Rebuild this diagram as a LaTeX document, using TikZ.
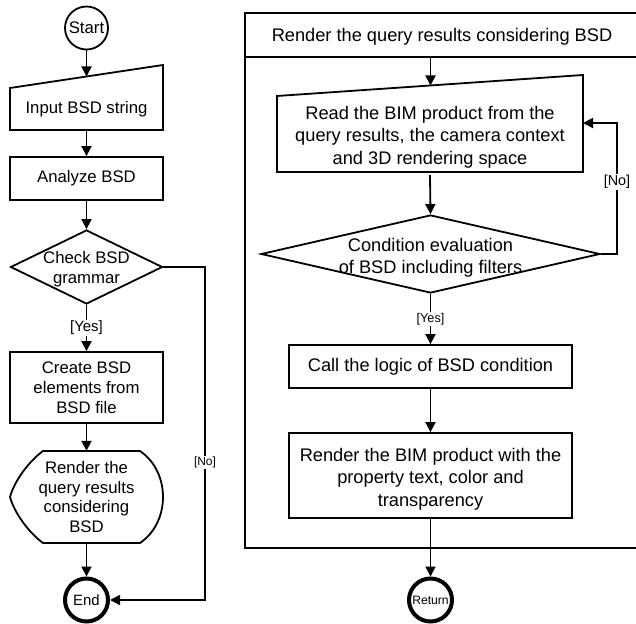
\documentclass[tikz,border=0pt]{standalone}
\usepackage{fontspec}
\setmainfont{Liberation Sans}
\usetikzlibrary{arrows.meta,shapes.geometric}
\newcommand\fontLeft{\fontsize{16.8}{20}\selectfont}
\newcommand\fontRight{\fontsize{18.3}{22.5}\selectfont}
\begin{document}
\begin{tikzpicture}[x=1bp,y=-1bp,
  ln/.style={line width=1.8bp},
  arr/.style={ln,-{Triangle[length=10bp,width=10bp]}},
  boxL/.style={draw,ln,rectangle,inner sep=0pt,align=center,font=\fontLeft},
  boxR/.style={draw,ln,rectangle,inner sep=0pt,align=center,font=\fontRight},
  txtL/.style={inner sep=0pt,align=center,font=\fontLeft},
  txtR/.style={inner sep=0pt,align=center,font=\fontRight},
  dia/.style={diamond,draw,ln,inner sep=0pt,aspect=2},
  circ/.style={circle,draw,ln,inner sep=0pt,minimum size=43bp},
  lbl/.style={fill=white,inner sep=1bp,font=\fontsize{13}{15}\selectfont}]
\useasboundingbox (0,0) rectangle (636,624);

% ---------------- left flow ----------------
\node[circ,font=\fontLeft] (start) at (86.5,28) {Start};

\draw[ln] (10,88) -- (163,65) -- (163,130) -- (10,130) -- cycle;
\node[txtL,minimum width=153bp,minimum height=42bp] (inp) at (86.5,109) {Input BSD string};
\coordinate (inpTop) at (86.5,76.5);

\node[boxL,minimum width=153bp,minimum height=43bp] (ana) at (86.5,178.5) {Analyze BSD};

\node[dia,minimum width=152bp,minimum height=74bp] (chk) at (86.5,267) {};
\node[txtL] (chkT) at (86.5,269) {Check BSD\\grammar};

\node[boxL,minimum width=153bp,minimum height=71bp] (cre) at (86.5,387.5) {Create BSD\\elements from\\BSD file};

\draw[ln] (43,451) -- (140,451) .. controls (156,462) and (163,480) .. (163,497)
  .. controls (163,514) and (156,532) .. (140,543) -- (43,543)
  .. controls (28,532) and (14,512) .. (10,497)
  .. controls (14,482) and (28,462) .. (43,451) -- cycle;
\node[txtL,minimum width=153bp,minimum height=92bp] (disp) at (86.5,497) {Render the\\query results\\considering\\BSD};

\node[circ,line width=4bp,font=\fontsize{15}{17}\selectfont] (end) at (86.5,600) {End};

\draw[arr] (start) -- (inpTop);
\draw[arr] (inp.south) -- (ana.north);
\draw[arr] (ana.south) -- (chk.north);
\draw[arr] (chk.south) -- node[lbl,font=\fontsize{15}{17}\selectfont]{[Yes]} (cre.north);
\draw[arr] (cre.south) -- (disp.north);
\draw[arr] (disp.south) -- (end.north);
\draw[arr] (chk.east) -- (205,267) |- node[lbl,pos=0.293,font=\fontsize{12}{14}\selectfont]{[No]} (end.east);

% ---------------- right frame ----------------
\draw[ln] (636,13) -- (245,13) -- (245,548) -- (636,548);
\draw[ln] (245,57) -- (636,57);
\node[txtR] (hdr) at (442,37) {Render the query results considering BSD};
\coordinate (hdrB) at (430.5,57);

\draw[ln] (277,96) -- (583,75) -- (583,172) -- (277,172) -- cycle;
\node[txtR,minimum width=306bp,minimum height=76bp] (read) at (430,137) {Read the BIM product from the\\query results, the camera context\\and 3D rendering space};
\coordinate (readTop) at (430.5,85.5);
\coordinate (readR) at (583,123);

\node[dia,minimum width=339bp,minimum height=78bp] (cond) at (430.5,254) {};
\node[txtR] (condT) at (430.5,258) {Condition evaluation\\of BSD including filters};

\node[boxR,minimum width=283bp,minimum height=43bp] (call) at (430.5,366.5) {Call the logic of BSD condition};
\node[boxR,minimum width=283bp,minimum height=85bp] (rend) at (430.5,475.5) {};
\node[txtR] (rendT) at (430.5,479) {Render the BIM product with the\\property text, color and\\transparency};

\node[circ,line width=4bp,font=\fontsize{12.2}{14}\selectfont] (ret) at (430.5,600) {Return};

\draw[arr] (hdrB) -- (readTop);
\draw[arr] (read.south) -- (cond.north);
\draw[arr] (cond.east) -- (617,254) |- node[lbl,pos=0.275,font=\fontsize{14.5}{16}\selectfont]{[No]} (readR);
\draw[arr] (cond.south) -- node[lbl,font=\fontsize{12.7}{14}\selectfont]{[Yes]} (call.north);
\draw[arr] (call.south) -- (rend.north);
\draw[arr] (rend.south) -- (ret.north);
\end{tikzpicture}
\end{document}
